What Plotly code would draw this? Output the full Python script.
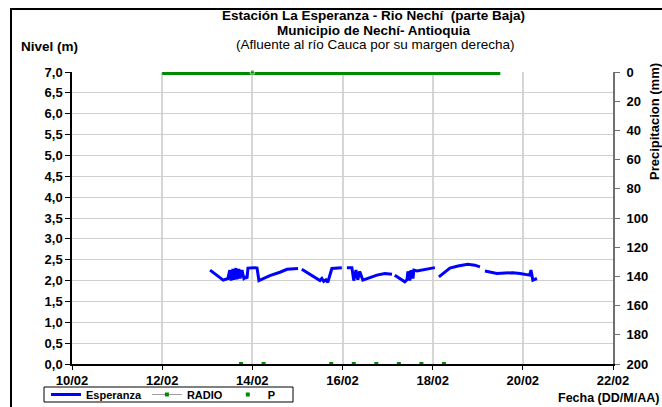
import plotly.graph_objects as go

# Water level (m) at Esperanza station; None marks gaps in the record
esp_time = [
    "2011-02-13 01:30", "2011-02-13 04:30", "2011-02-13 08:30", "2011-02-13 11:00",
    "2011-02-13 12:00", "2011-02-13 12:40", "2011-02-13 13:40", "2011-02-13 14:15",
    "2011-02-13 15:15", "2011-02-13 15:50", "2011-02-13 16:50", "2011-02-13 17:25",
    "2011-02-13 18:30", "2011-02-13 19:30", "2011-02-13 20:30", "2011-02-13 21:10",
    "2011-02-13 21:40", "2011-02-14 01:20", "2011-02-14 02:30", "2011-02-14 03:30",
    "2011-02-14 09:20", "2011-02-14 14:40", "2011-02-14 18:30", "2011-02-15 00:20",
    "2011-02-15 01:20",
    "2011-02-15 02:20", "2011-02-15 06:40", "2011-02-15 10:20", "2011-02-15 12:00",
    "2011-02-15 13:00", "2011-02-15 14:00", "2011-02-15 15:10", "2011-02-15 16:10",
    "2011-02-15 18:20", "2011-02-15 23:40",
    "2011-02-16 01:00",
    "2011-02-16 02:20", "2011-02-16 05:00", "2011-02-16 06:00", "2011-02-16 07:10",
    "2011-02-16 08:10", "2011-02-16 09:10", "2011-02-16 10:50", "2011-02-16 14:40",
    "2011-02-16 18:20", "2011-02-16 22:30", "2011-02-17 02:20",
    "2011-02-17 03:00",
    "2011-02-17 03:50", "2011-02-17 06:30", "2011-02-17 09:10", "2011-02-17 10:20",
    "2011-02-17 10:50", "2011-02-17 11:50", "2011-02-17 12:30", "2011-02-17 13:30",
    "2011-02-17 14:00", "2011-02-17 15:40", "2011-02-17 19:50", "2011-02-18 01:10",
    "2011-02-18 02:10",
    "2011-02-18 03:20", "2011-02-18 06:30", "2011-02-18 09:10", "2011-02-18 13:30",
    "2011-02-18 18:40", "2011-02-18 22:30", "2011-02-19 01:10",
    "2011-02-19 02:20",
    "2011-02-19 03:50", "2011-02-19 10:10", "2011-02-19 14:30", "2011-02-19 18:40",
    "2011-02-19 22:30", "2011-02-20 01:00", "2011-02-20 03:40", "2011-02-20 04:20",
    "2011-02-20 05:20", "2011-02-20 07:30",
]
esp_level = [
    2.25, 2.15, 2.01, 2.05,
    2.25, 2.00, 2.28, 2.02,
    2.30, 2.03, 2.28, 2.05,
    2.25, 2.05, 2.08, 2.05,
    2.30, 2.31, 2.30, 2.00,
    2.12, 2.20, 2.27, 2.29,
    None,
    2.27, 2.15, 2.03, 2.00,
    2.05, 1.98, 2.02, 1.96,
    2.29, 2.31,
    None,
    2.31, 2.31, 2.00, 2.25,
    2.02, 2.22, 2.01, 2.08,
    2.13, 2.17, 2.15,
    None,
    2.13, 2.05, 1.97, 2.02,
    2.22, 2.00, 2.25, 2.05,
    2.25, 2.23, 2.27, 2.31,
    None,
    2.09, 2.20, 2.30, 2.35,
    2.39, 2.37, 2.33,
    None,
    2.23, 2.17, 2.18, 2.19,
    2.17, 2.15, 2.13, 2.25,
    2.01, 2.05,
]

# Radio-transmitted rainfall (mm)
radio_time = ["2011-02-12 00:00", "2011-02-14 00:00", "2011-02-19 12:00"]
radio_mm = [0, 0, 0]

# P readings
p_time = ["2011-02-13 18:00", "2011-02-14 06:00", "2011-02-15 18:00", "2011-02-16 06:00",
          "2011-02-16 18:00", "2011-02-17 06:00", "2011-02-17 18:00", "2011-02-18 06:00"]
p_level = [0, 0, 0, 0, 0, 0, 0, 0]

level_ticks = [i * 0.5 for i in range(15)]
rain_ticks = list(range(0, 201, 20))

W, H = 662, 407
L, R, T, B = 72, 49, 72, 43
PW, PH = W - L - R, H - T - B
FONT = "Liberation Sans, Arial, sans-serif"
GREEN = "#008a00"


def px(x):
    return (x - L) / PW


def py(y):
    return (H - B - y) / PH


fig = go.Figure()
fig.add_trace(go.Scatter(
    x=esp_time, y=esp_level, name="Esperanza", mode="lines",
    line=dict(color="#0000ff", width=3), connectgaps=False,
))
# the series sits on the top edge of the plot, so half the stroke is clipped
fig.add_trace(go.Scatter(
    x=radio_time, y=radio_mm, yaxis="y2", mode="lines+markers", showlegend=False,
    line=dict(color=GREEN, width=6), marker=dict(color=GREEN, size=[0, 4, 0], symbol="square"),
    cliponaxis=False,
))
fig.add_trace(go.Scatter(
    x=[None], y=[None], yaxis="y2", name="RADIO", mode="lines+markers",
    line=dict(color="#a0a0a0", width=1), marker=dict(color=GREEN, size=4, symbol="square"),
))
fig.add_trace(go.Scatter(
    x=p_time, y=p_level, name="P", mode="markers",
    marker=dict(color=GREEN, size=4, symbol="square"), cliponaxis=False,
))

TXT = dict(family=FONT, size=13.5, color="black")
annotations = [
    dict(text="<b>Estación La Esperanza - Rio Nechí  (parte Baja)</b>", x=px(373), y=py(15)),
    dict(text="<b>Municipio de Nechí- Antioquia</b>", x=px(373), y=py(30)),
    dict(text="(Afluente al río Cauca por su margen derecha)", x=px(375), y=py(45)),
]
for a in annotations:
    a.update(xref="paper", yref="paper", showarrow=False, xanchor="center", yanchor="middle",
             font=TXT)
annotations += [
    dict(text="<b>Nivel (m)</b>", x=px(19), y=py(46), xref="paper", yref="paper",
         showarrow=False, xanchor="left", yanchor="middle", font=TXT),
    dict(text="<b>Fecha (DD/M/AA)</b>", x=px(556), y=py(398), xref="paper", yref="paper",
         showarrow=False, xanchor="left", yanchor="middle",
         font=dict(family=FONT, size=12.5, color="black")),
    dict(text="<b>Precipitacion (mm)</b>", x=px(654), y=py(122), xref="paper", yref="paper",
         showarrow=False, xanchor="center", yanchor="middle", textangle=-90,
         font=dict(family=FONT, size=13, color="black")),
]

TICKFONT = dict(family=FONT, size=13, weight="bold", color="black")

fig.update_layout(
    width=W, height=H,
    margin=dict(l=L, r=R, t=T, b=B, pad=0, autoexpand=False),
    paper_bgcolor="white", plot_bgcolor="white",
    separators=",.",
    font=dict(family=FONT, size=11, color="black"),
    showlegend=True,
    legend=dict(
        orientation="h", xref="container", yref="container",
        x=46 / W, y=1 - 380 / H, xanchor="left", yanchor="top",
        bgcolor="rgba(0,0,0,0)", borderwidth=0,
        font=dict(family=FONT, size=11, color="black", weight="bold"),
        itemwidth=30, tracegroupgap=0,
    ),
    xaxis=dict(
        type="date", range=["2011-02-10", "2011-02-22"],
        tick0="2011-02-10", dtick=2 * 86400000, tickformat="%d/%m",
        showgrid=True, gridcolor="#d6d6d6", gridwidth=2,
        showline=True, linecolor="black", linewidth=1.5,
        ticks="outside", ticklen=4, tickcolor="black",
        tickfont=TICKFONT, zeroline=False,
    ),
    yaxis=dict(
        range=[0, 7], tickvals=level_ticks, tickformat=".1f",
        showgrid=True, gridcolor="#cfcfcf", gridwidth=1,
        showline=True, linecolor="black", linewidth=1.5,
        ticks="outside", ticklen=5, tickcolor="black",
        tickfont=TICKFONT, zeroline=False,
    ),
    yaxis2=dict(
        overlaying="y", side="right", range=[200, 0], tickvals=rain_ticks,
        showgrid=False, showline=True, linecolor="#707070", linewidth=2,
        ticks="outside", ticklen=5, tickcolor="#707070",
        tickfont=TICKFONT, ticklabelstandoff=4, zeroline=False,
    ),
    shapes=[
        # outer chart frame
        dict(type="rect", xref="paper", yref="paper",
             x0=px(11), y0=py(H + 20), x1=px(W + 20), y1=py(9),
             line=dict(color="black", width=2), layer="above"),
        # legend frame
        dict(type="rect", xref="paper", yref="paper",
             x0=px(44), y0=py(402), x1=px(293), y1=py(387),
             line=dict(color="black", width=1), layer="above"),
    ],
    annotations=annotations,
)

fig.write_html("out.html")
